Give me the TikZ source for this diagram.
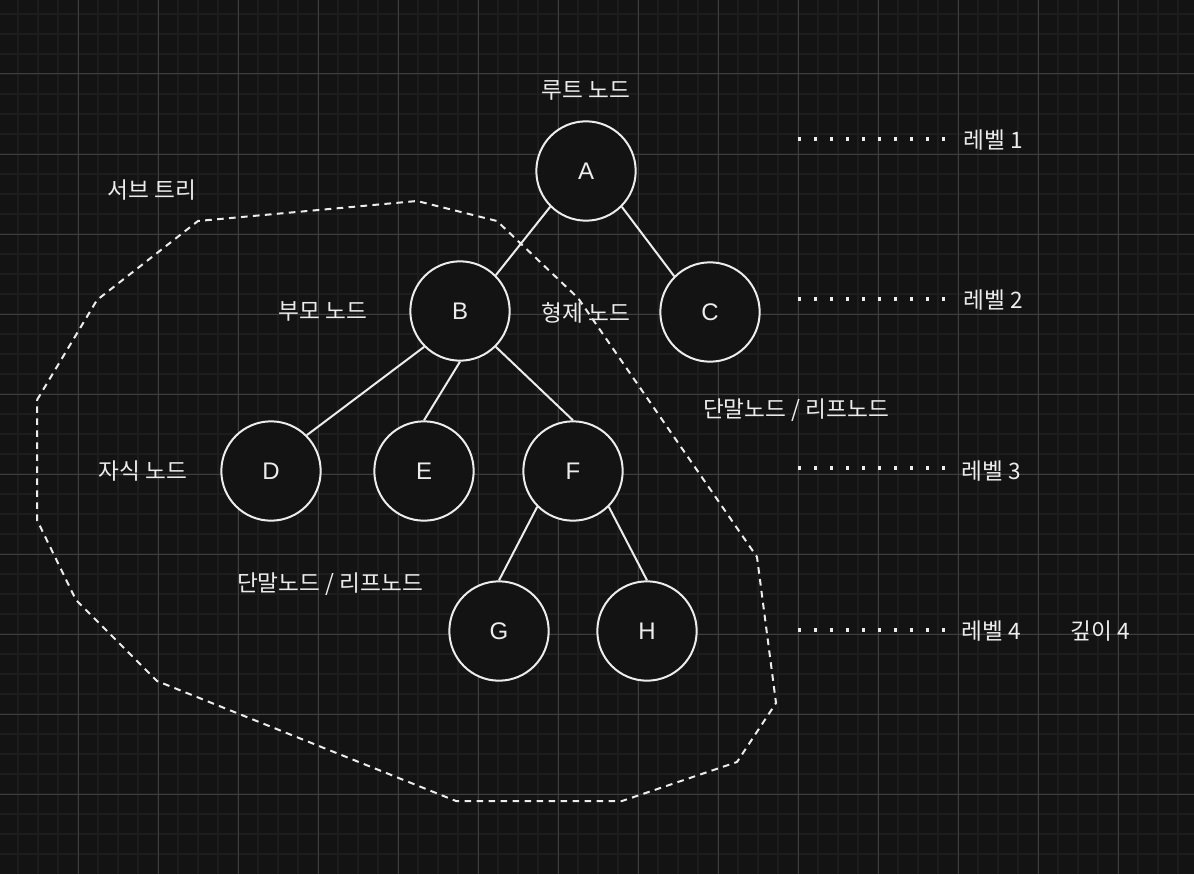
\documentclass[tikz,border=0pt]{standalone}
\usepackage{fontspec}
\setmainfont{Liberation Sans}
\newfontfamily\krfont{Noto Sans CJK KR}
\usetikzlibrary{calc}
\definecolor{bg}{RGB}{19, 19, 19}
\definecolor{minorgrid}{RGB}{29, 29, 29}
\definecolor{majorgrid}{RGB}{62, 62, 62}
\definecolor{ink}{RGB}{236, 236, 236}
\tikzstyle{tn}=[circle,fill=bg,draw=ink,line width=1.5pt,
  minimum size=74.5pt,inner sep=0pt,text=ink,font=\fontsize{18}{21}\selectfont]
\tikzstyle{lbl}=[text=ink,inner sep=0pt,font=\krfont\fontsize{17}{20}\selectfont]
\tikzstyle{edge}=[draw=ink,line width=1.5pt]
\tikzstyle{lv}=[draw=ink,line width=2.5pt,dash pattern=on 2.5pt off 9.5pt]
\tikzstyle{sub}=[draw=ink,line width=1.5pt,dash pattern=on 5pt off 4pt]
\tikzstyle{none}=[inner sep=0pt]

\begin{document}
\begin{tikzpicture}[x=0.75pt,y=-0.75pt]
            \fill[bg] (0,0) rectangle (1194,874);
            \useasboundingbox (0,0) rectangle (1194,874);
            % grid
            \foreach \x in {18,38,...,1178} \draw[minorgrid,line width=1pt] (\x,0) -- (\x,874);
            \foreach \y in {14,34,...,854} \draw[minorgrid,line width=1pt] (0,\y) -- (1194,\y);
            \foreach \x in {78,158,...,1158} \draw[majorgrid,line width=0.75pt] (\x,0) -- (\x,874);
            \foreach \y in {74,154,...,794} \draw[majorgrid,line width=0.75pt] (0,\y) -- (1194,\y);
            % sub tree
            \draw[style=sub] (37,400) -- (97,300) -- (198,221) -- (417,201) -- (497,221)
                -- (578,298) -- (757,557) -- (776,703) -- (737,762) -- (622,801)
                -- (456,801) -- (157,681) -- (76,600) -- (37,520) -- cycle;
            % tree
            \node [style=tn] (0) at (586, 171) {A};
            \node [style=tn] (1) at (460, 311) {B};
            \node [style=tn] (2) at (710, 312) {C};
            \node [style=tn] (3) at (271, 471) {D};
            \node [style=tn] (4) at (424, 471) {E};
            \node [style=tn] (5) at (573, 471) {F};
            \node [style=tn] (6) at (499, 631) {G};
            \node [style=tn] (7) at (647, 631) {H};
            \draw[style=edge] (0.south west) to (1.north east);
            \draw[style=edge] (0.south east) to (2.north west);
            \draw[style=edge] (1.south west) to (3.north east);
            \draw[style=edge] (1.south) to (4.north);
            \draw[style=edge] (1.south east) to (5.north);
            \draw[style=edge] (5.south west) to (6.north);
            \draw[style=edge] (5.south east) to (7.north);
            % labels
            \node [style=lbl] (8) at (586, 90) {루트 노드};
            \node [style=lbl] (9) at (152, 190) {서브 트리};
            \node [style=lbl] (10) at (323, 311) {부모 노드};
            \node [style=lbl] (11) at (586, 313) {형제 노드};
            \node [style=lbl] (12) at (796, 410) {단말노드 / 리프노드};
            \node [style=lbl] (13) at (143, 471) {자식 노드};
            \node [style=lbl] (14) at (330, 584) {단말노드 / 리프노드};
            % levels
            \node [style=none] (15) at (798, 139) {};
            \node [style=none] (16) at (946, 139) {};
            \node [style=none] (17) at (798, 299) {};
            \node [style=none] (18) at (946, 299) {};
            \node [style=none] (19) at (798, 468) {};
            \node [style=none] (20) at (946, 468) {};
            \node [style=none] (21) at (798, 630) {};
            \node [style=none] (22) at (946, 630) {};
            \draw[style=lv] (15.center) to (16.center);
            \draw[style=lv] (17.center) to (18.center);
            \draw[style=lv] (19.center) to (20.center);
            \draw[style=lv] (21.center) to (22.center);
            \node [style=lbl,anchor=west] (23) at (963, 140) {레벨 1};
            \node [style=lbl,anchor=west] (24) at (963, 300) {레벨 2};
            \node [style=lbl,anchor=west] (25) at (961, 471) {레벨 3};
            \node [style=lbl,anchor=west] (26) at (961, 631) {레벨 4};
            \node [style=lbl,anchor=west] (27) at (1070, 631) {깊이 4};
    \end{tikzpicture}
\end{document}
